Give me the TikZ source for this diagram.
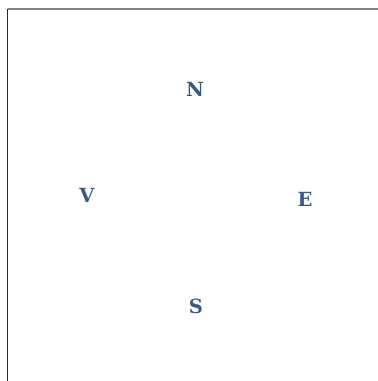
\documentclass[tikz,border=0pt]{standalone}
\usepackage{fontspec}
\newfontfamily\dirfont{DejaVu Serif}
\definecolor{dirblue}{HTML}{375A82}
\begin{document}
\begin{tikzpicture}[x=1pt, y=-1pt, line join=round, line cap=butt,
	dirlabel/.style={text=dirblue, font=\dirfont\fontsize{19.5}{20}\selectfont\bfseries, inner sep=0pt}]
			\useasboundingbox (0,0) rectangle (378,381);
			\path
			(7.5,381) coordinate (L_1)
			(7.5,8.5) coordinate (C)
			(378,8.5) coordinate (T_1)
			;
			\draw [gray, line width=2pt] (C) -- (T_1);
			\draw [black!85, line width=1.4pt] (C) -- (L_1);
			\node[dirlabel] (nord) at (195,89.5) {N};
			\node[dirlabel] (vest) at (87,195.5) {V};
			\node[dirlabel] (est) at (305,199.5) {E};
			\node[dirlabel] (sud) at (196,306) {S};
		\end{tikzpicture}
\end{document}
